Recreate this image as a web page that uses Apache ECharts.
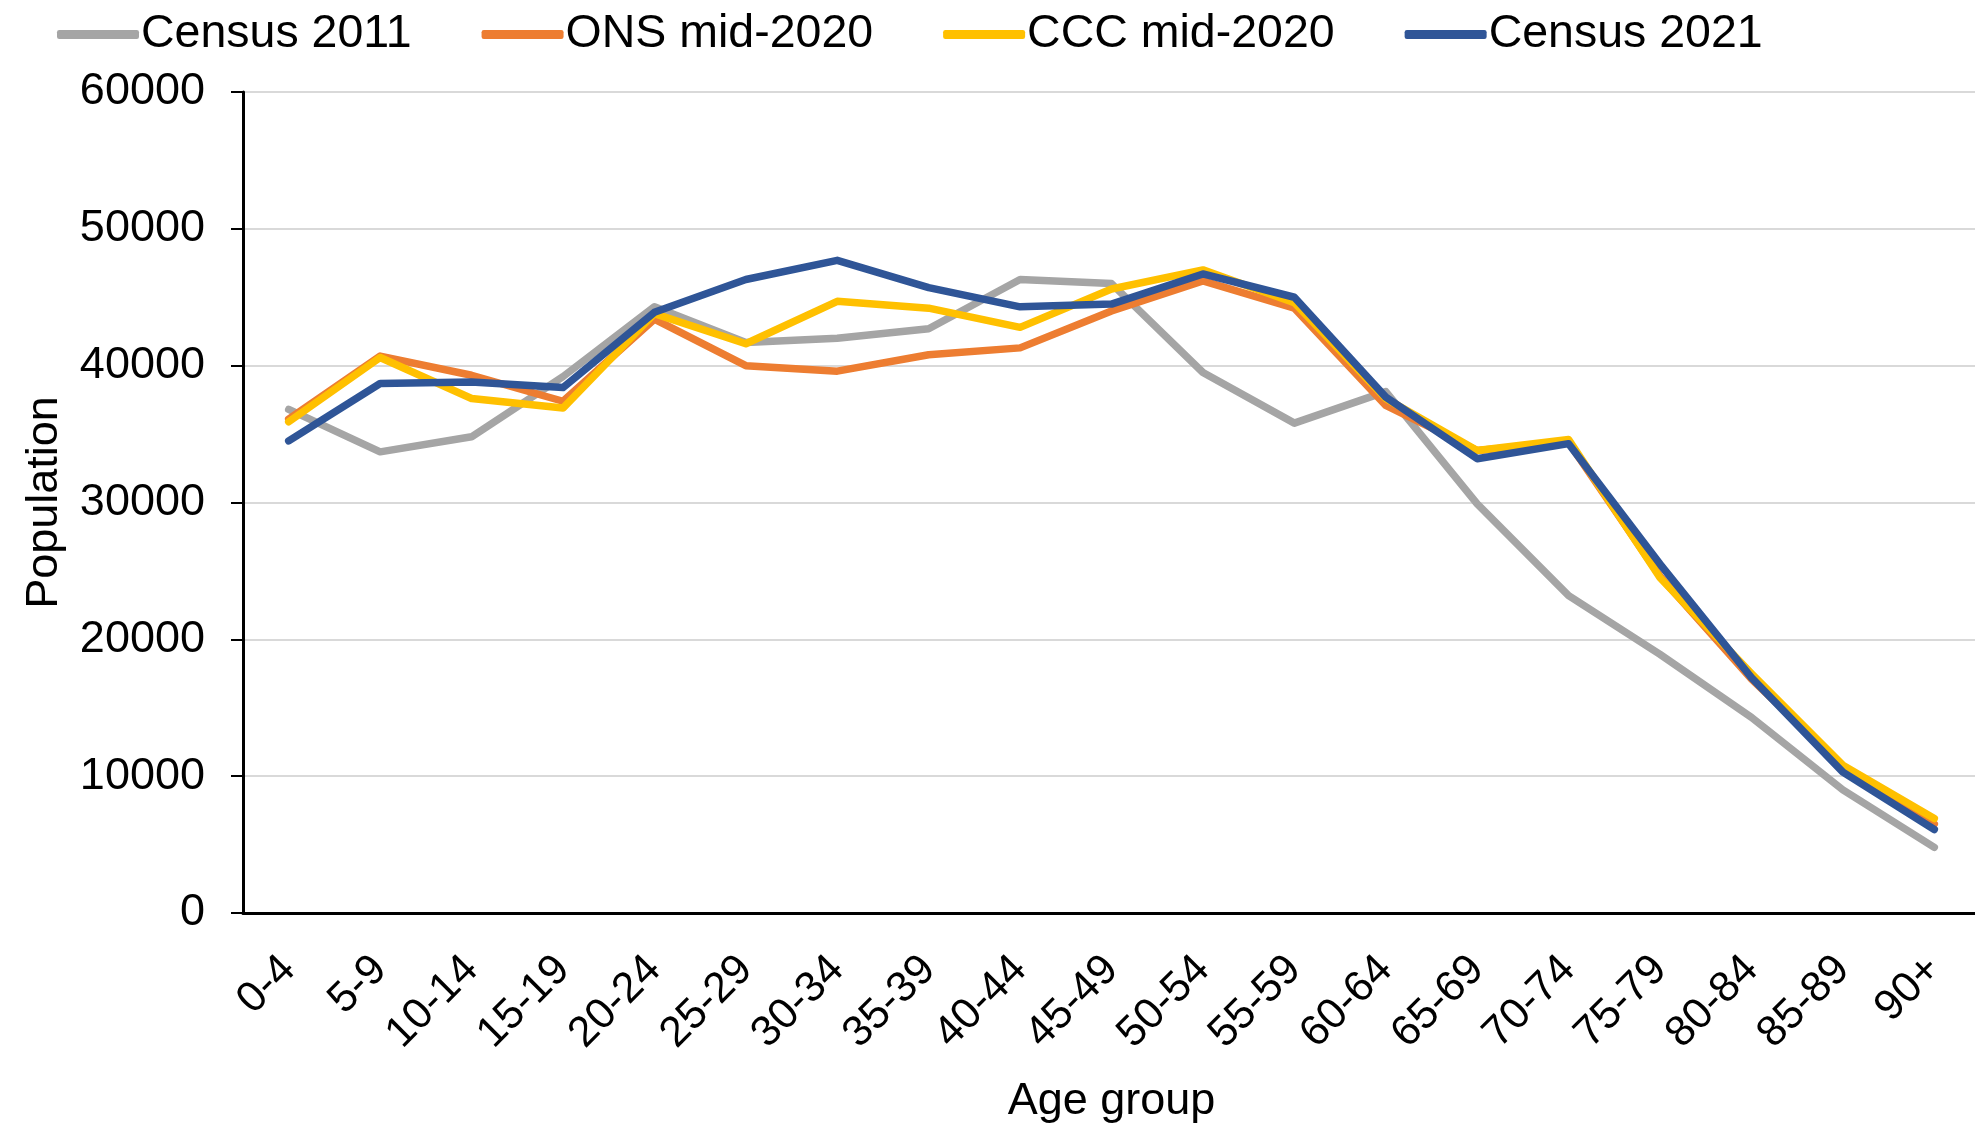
<!DOCTYPE html>
<html>
<head>
<meta charset="utf-8">
<script src="https://cdn.jsdelivr.net/npm/echarts@6/dist/echarts.min.js"></script>
<style>
html,body{margin:0;padding:0;background:#fff;}
#chart{width:1975px;height:1123px;}
</style>
</head>
<body>
<div id="chart"></div>
<script>
const categories = ['0-4','5-9','10-14','15-19','20-24','25-29','30-34','35-39','40-44','45-49','50-54','55-59','60-64','65-69','70-74','75-79','80-84','85-89','90+'];
const census2011 = [36800, 33700, 34800, 39200, 44300, 41700, 42000, 42700, 46300, 46000, 39500, 35800, 38100, 29900, 23200, 18900, 14300, 9000, 4800];
const ons2020    = [36100, 40700, 39300, 37400, 43400, 40000, 39600, 40800, 41300, 44000, 46200, 44200, 37100, 33800, 34400, 24600, 17100, 10700, 6500];
const ccc2020    = [35900, 40600, 37600, 36900, 43800, 41600, 44700, 44200, 42800, 45600, 47000, 44600, 37600, 33800, 34600, 24500, 17500, 10800, 6900];
const census2021 = [34500, 38700, 38800, 38400, 43900, 46300, 47700, 45700, 44300, 44500, 46700, 45000, 37700, 33200, 34300, 25500, 17200, 10300, 6100];
const seriesNames = ['Census 2011','ONS mid-2020','CCC mid-2020','Census 2021'];
const seriesColors = ['#A5A5A5','#ED7D31','#FFC000','#2F5597'];
const seriesData = [census2011, ons2020, ccc2020, census2021];

const font = '"Liberation Sans", Arial, sans-serif';
const chart = echarts.init(document.getElementById('chart'));
chart.setOption({
  animation: false,
  backgroundColor: '#fff',
  textStyle: {fontFamily: font, color: '#000'},
  legend: {
    left: 52, top: 6,
    itemWidth: 82, itemHeight: 9, itemGap: 70,
    icon: 'roundRect',
    textStyle: {fontSize: 46.5, fontFamily: font, color: '#000', padding: [0,0,0,-3]},
    data: seriesNames
  },
  grid: {left: 243, top: 92, width: 1737, height: 821, containLabel: false, outerBoundsMode: 'none'},
  xAxis: {
    type: 'category',
    data: categories,
    boundaryGap: true,
    name: 'Age group',
    nameLocation: 'middle',
    nameGap: 166,
    nameTextStyle: {fontSize: 45, fontFamily: font, color: '#000'},
    axisLine: {lineStyle: {color: '#000', width: 3}},
    axisTick: {alignWithLabel: true, length: 10, lineStyle: {color: '#000', width: 2}},
    axisLabel: {rotate: 45, fontSize: 43, fontFamily: font, color: '#000', margin: 50, interval: 0},
    splitLine: {show: false}
  },
  yAxis: {
    type: 'value',
    min: 0, max: 60000, interval: 10000,
    name: 'Population',
    nameLocation: 'middle',
    nameGap: 176,
    nameTextStyle: {fontSize: 45, fontFamily: font, color: '#000'},
    axisLine: {show: true, lineStyle: {color: '#000', width: 3}},
    axisTick: {show: true, length: 12, lineStyle: {color: '#000', width: 2}},
    axisLabel: {fontSize: 45, fontFamily: font, color: '#000', margin: 38, formatter: v => String(v)},
    splitLine: {lineStyle: {color: '#D9D9D9', width: 2}}
  },
  series: seriesNames.map((n, i) => ({
    name: n,
    type: 'line',
    data: seriesData[i],
    symbol: 'none',
    color: seriesColors[i],
    lineStyle: {width: 7.5, color: seriesColors[i], cap: 'round', join: 'round'},
    z: 2 + i
  }))
});
</script>
</body>
</html>
